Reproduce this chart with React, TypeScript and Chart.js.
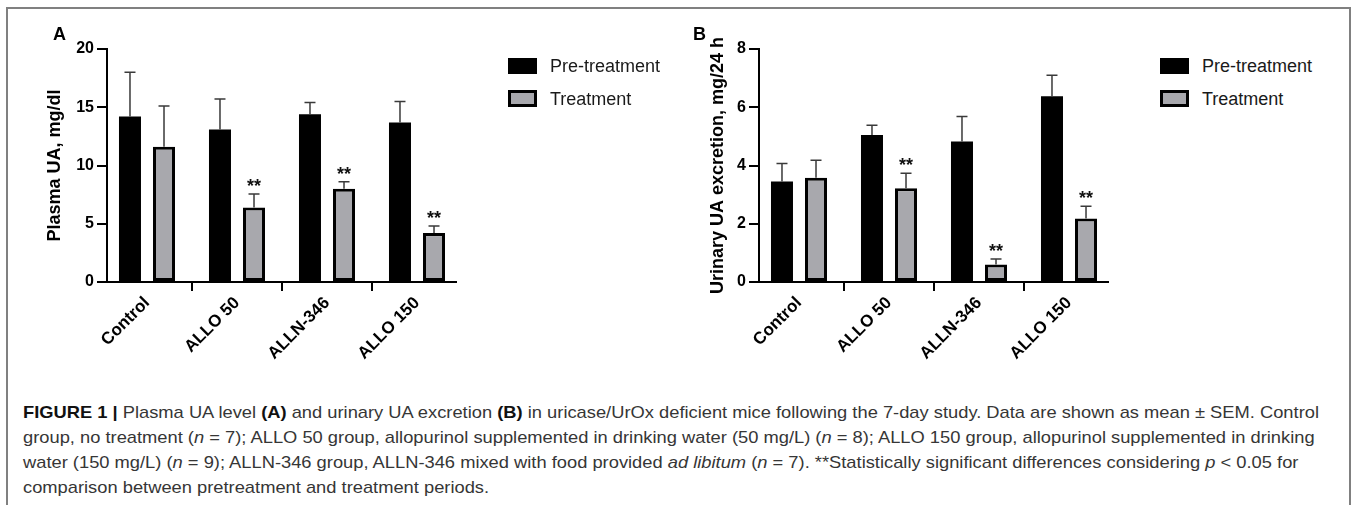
import React, { useEffect, useLayoutEffect, useRef } from "react";
import { Chart, registerables } from "chart.js";

Chart.register(...registerables);

// ---------- data ----------
const categories = ["Control", "ALLO 50", "ALLN-346", "ALLO 150"];
const seriesNames = ["Pre-treatment", "Treatment"];

// Panel A: Plasma UA, mg/dl (mean and SEM)
const plasmaPre = [14.2, 13.1, 14.4, 13.7];
const plasmaPreErr = [3.8, 2.6, 1.0, 1.8];
const plasmaTrt = [11.6, 6.4, 8.0, 4.2];
const plasmaTrtErr = [3.5, 1.15, 0.6, 0.6];
const plasmaSig = [false, true, true, true];
const plasmaTicks = [0, 5, 10, 15, 20];

// Panel B: Urinary UA excretion, mg/24 h (mean and SEM)
const urinePre = [3.45, 5.05, 4.82, 6.38];
const urinePreErr = [0.62, 0.33, 0.86, 0.72];
const urineTrt = [3.58, 3.22, 0.6, 2.18];
const urineTrtErr = [0.6, 0.51, 0.19, 0.42];
const urineSig = [false, true, true, true];
const urineTicks = [0, 2, 4, 6, 8];

const FONT = "'Liberation Sans', Arial, Helvetica, sans-serif";
const GRAY = "#a8a8ad";
const TITLE_SIZE = 18;

const errorBarPlugin = {
  id: "errorBars",
  afterDatasetsDraw(chart: any, _args: any, opts: any) {
    const { ctx } = chart;
    const yScale = chart.scales.y;
    ctx.save();
    chart.data.datasets.forEach((ds: any, di: number) => {
      const meta = chart.getDatasetMeta(di);
      const errs: number[] = opts.errors[di];
      meta.data.forEach((bar: any, i: number) => {
        const v = ds.data[i].y;
        const top = yScale.getPixelForValue(v + errs[i]);
        const x = bar.x;
        ctx.strokeStyle = "#3a3a3a";
        ctx.lineWidth = 1.5;
        ctx.beginPath();
        ctx.moveTo(x, bar.y);
        ctx.lineTo(x, top);
        ctx.moveTo(x - 5.5, top);
        ctx.lineTo(x + 5.5, top);
        ctx.stroke();
        if (di === 1 && opts.sig[i]) {
          ctx.fillStyle = "#111";
          ctx.font = `bold 18px ${FONT}`;
          ctx.textAlign = "center";
          ctx.textBaseline = "alphabetic";
          ctx.fillText("**", x, top - 2);
        }
      });
    });
    ctx.restore();
  },
};

function makeConfig(
  pre: number[],
  preErr: number[],
  trt: number[],
  trtErr: number[],
  sig: boolean[],
  yTicks: number[],
  yTitle: string,
  axisLeft: number,
  axisRight: number,
  canvasW: number,
  titleX: number
): any {
  const yMax = yTicks[yTicks.length - 1];
  const step = yTicks[1] - yTicks[0];
  return {
    type: "bar",
    data: {
      datasets: [
        {
          label: seriesNames[0],
          data: pre.map((v, i) => ({ x: i, y: v })),
          backgroundColor: "#000",
          borderColor: "#000",
          borderWidth: 0,
          categoryPercentage: 0.756,
          barPercentage: 0.647,
        },
        {
          label: seriesNames[1],
          data: trt.map((v, i) => ({ x: i, y: v })),
          backgroundColor: GRAY,
          borderColor: "#000",
          borderWidth: 3,
          borderSkipped: false,
          categoryPercentage: 0.756,
          barPercentage: 0.647,
        },
      ],
    },
    options: {
      responsive: false,
      animation: false,
      devicePixelRatio: 1,
      layout: { padding: { left: 0, top: 49, right: canvasW - axisRight, bottom: 0 } },
      plugins: {
        legend: { display: false },
        tooltip: { enabled: false },
        errorBars: { errors: [preErr, trtErr], sig },
      },
      scales: {
        x: {
          type: "linear",
          min: -0.4444,
          max: 3.4333,
          offset: false,
          afterBuildTicks: (s: any) => {
            s.ticks = categories.map((_, i) => ({ value: i }));
          },
          afterFit: (s: any) => {
            s.height = 98;
          },
          grid: {
            drawOnChartArea: false,
            drawTicks: true,
            tickLength: 9,
            color: "#000",
            lineWidth: 2,
          },
          border: { display: true, color: "#000", width: 2 },
          ticks: {
            autoSkip: false,
            minRotation: 45,
            maxRotation: 45,
            padding: 2,
            color: "#000",
            font: { family: FONT, size: 17, weight: "bold" },
            callback: (v: any) => categories[v as number],
          },
        },
        y: {
          min: 0,
          max: yMax,
          afterBuildTicks: (s: any) => {
            s.ticks = yTicks.map((v) => ({ value: v }));
          },
          afterFit: (s: any) => {
            s.width = axisLeft;
          },
          grid: {
            drawOnChartArea: false,
            drawTicks: true,
            tickLength: 10,
            color: "#000",
            lineWidth: 2,
          },
          border: { display: true, color: "#000", width: 2 },
          ticks: {
            stepSize: step,
            padding: 3,
            color: "#000",
            font: { family: FONT, size: 16, weight: "bold" },
          },
          title: {
            display: true,
            text: yTitle,
            color: "#000",
            font: { family: FONT, size: TITLE_SIZE, weight: "bold" },
            padding: { top: titleX - (TITLE_SIZE * 1.2) / 2, bottom: 0 },
          },
        },
      },
    },
    plugins: [errorBarPlugin],
  };
}

function BarChart(props: { left: number; width: number; config: any }) {
  const ref = useRef<HTMLCanvasElement>(null);
  useEffect(() => {
    if (!ref.current) return;
    const chart = new Chart(ref.current, props.config);
    return () => chart.destroy();
  }, []);
  return (
    <canvas
      ref={ref}
      width={props.width}
      height={380}
      style={{ position: "absolute", left: props.left, top: 0, width: props.width, height: 380 }}
    />
  );
}

function Legend(props: { left: number }) {
  const text: React.CSSProperties = {
    position: "absolute",
    left: props.left + 42,
    fontFamily: FONT,
    fontSize: 18,
    lineHeight: "18px",
    color: "#1a1a1a",
    whiteSpace: "nowrap",
  };
  return (
    <>
      <div style={{ position: "absolute", left: props.left, top: 58, width: 29, height: 16, background: "#000" }} />
      <div style={{ ...text, top: 57 }}>{seriesNames[0]}</div>
      <div
        style={{
          position: "absolute",
          left: props.left,
          top: 90,
          width: 29,
          height: 17,
          boxSizing: "border-box",
          border: "3px solid #000",
          background: GRAY,
        }}
      />
      <div style={{ ...text, top: 89.5 }}>{seriesNames[1]}</div>
    </>
  );
}

export default function App() {
  const capRef = useRef<HTMLDivElement>(null);

  useLayoutEffect(() => {
    document.body.style.margin = "0";
    const fit = () => {
      const el = capRef.current;
      if (!el) return;
      el.style.transform = "none";
      const first = el.querySelector("[data-line='0']") as HTMLElement;
      const w = first.getBoundingClientRect().width;
      if (w > 0) el.style.transform = `scaleX(${1296 / w})`;
    };
    fit();
    (document as any).fonts?.ready?.then(fit);
  }, []);

  const configA = makeConfig(
    plasmaPre, plasmaPreErr, plasmaTrt, plasmaTrtErr, plasmaSig, plasmaTicks,
    "Plasma UA, mg/dl", 107, 456, 640, 55
  );
  const configB = makeConfig(
    urinePre, urinePreErr, urineTrt, urineTrtErr, urineSig, urineTicks,
    "Urinary UA excretion, mg/24 h", 119, 468, 500, 78.5
  );

  const line: React.CSSProperties = {
    position: "absolute",
    left: 0,
    whiteSpace: "nowrap",
    display: "inline-block",
    lineHeight: "25px",
  };
  const b: React.CSSProperties = { fontWeight: "bold", color: "#111" };

  return (
    <div style={{ position: "relative", width: 1357, height: 507, background: "#fff", overflow: "hidden" }}>
      <div
        style={{
          position: "absolute",
          left: 6,
          top: 7,
          width: 1341,
          height: 496,
          borderTop: "2px solid #808080",
          borderLeft: "2px solid #808080",
          borderRight: "2px solid #808080",
        }}
      />
      <BarChart left={0} width={640} config={configA} />
      <BarChart left={640} width={500} config={configB} />

      <div style={{ position: "absolute", left: 53, top: 25, fontFamily: FONT, fontWeight: "bold", fontSize: 18, lineHeight: "18px" }}>A</div>
      <div style={{ position: "absolute", left: 693, top: 25, fontFamily: FONT, fontWeight: "bold", fontSize: 18, lineHeight: "18px" }}>B</div>

      <Legend left={508} />
      <Legend left={1160} />

      <div
        ref={capRef}
        style={{
          position: "absolute",
          left: 23,
          top: 400,
          width: 1400,
          height: 100,
          transformOrigin: "0 0",
          fontFamily: "'Liberation Sans Narrow', 'Liberation Sans', Arial, sans-serif",
          fontSize: 17,
          color: "#363636",
        }}
      >
        <div data-line="0" style={{ ...line, top: 0 }}>
          <span style={b}>FIGURE 1 |</span> Plasma UA level <span style={b}>(A)</span> and urinary UA excretion{" "}
          <span style={b}>(B)</span> in uricase/UrOx deficient mice following the 7-day study. Data are shown as mean ± SEM. Control
        </div>
        <div style={{ ...line, top: 25 }}>
          group, no treatment (<i>n</i> = 7); ALLO 50 group, allopurinol supplemented in drinking water (50 mg/L) (<i>n</i> = 8); ALLO 150 group, allopurinol supplemented in drinking
        </div>
        <div style={{ ...line, top: 50 }}>
          water (150 mg/L) (<i>n</i> = 9); ALLN-346 group, ALLN-346 mixed with food provided <i>ad libitum</i> (<i>n</i> = 7). **Statistically significant differences considering{" "}
          <i>p</i> &lt; 0.05 for
        </div>
        <div style={{ ...line, top: 75 }}>comparison between pretreatment and treatment periods.</div>
      </div>
    </div>
  );
}
